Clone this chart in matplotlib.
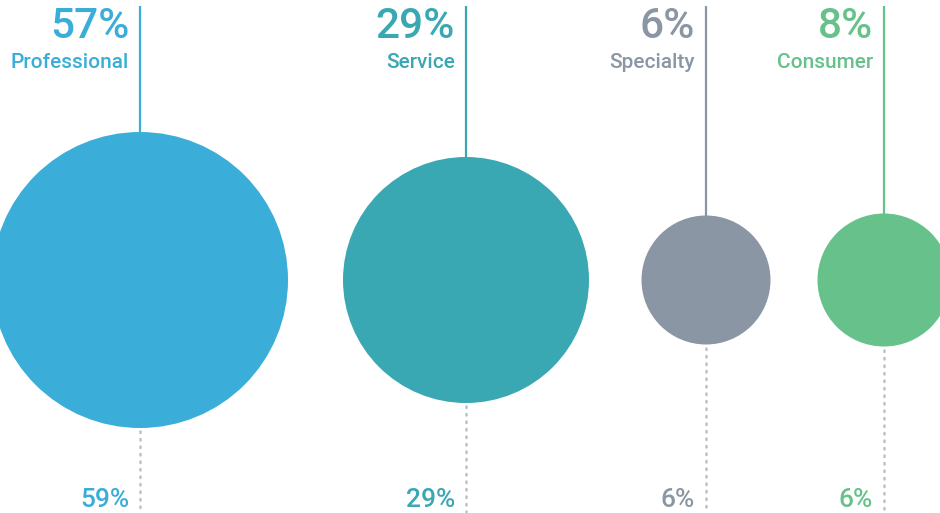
import matplotlib
matplotlib.use("Agg")
import matplotlib.pyplot as plt
from matplotlib.patches import Circle

categories = ["Professional", "Service", "Specialty", "Consumer"]
top_values = [57, 29, 6, 8]
bottom_values = [59, 29, 6, 6]
circle_sizes = [148, 123, 64.5, 66.5]
colors = ["#3AAED9", "#39A8B3", "#8A96A3", "#67C18A"]

x_pos = [140, 466, 706, 884]
cy = 280

fig = plt.figure(figsize=(9.4, 5.13), dpi=100)
ax = fig.add_axes([0, 0, 1, 1])
ax.set_xlim(0, 940)
ax.set_ylim(513, 0)
ax.set_aspect("equal")
ax.axis("off")

font = "Roboto"
for cat, tv, bv, r, c, x in zip(categories, top_values, bottom_values, circle_sizes, colors, x_pos):
    ax.add_patch(Circle((x, cy), r, color=c, zorder=2, linewidth=0))
    ax.plot([x, x], [6, cy - r], color=c, lw=1.6, zorder=1, solid_capstyle="butt")
    ax.plot([x, x], [cy + r + 3, 512], color="#B8C2C6", lw=1.8, ls=(0, (0.6, 2.4)),
            zorder=1, dash_capstyle="round")
    ax.text(x - 11, 38, f"{tv}%", color=c, fontsize=30.5, fontfamily=font,
            fontweight="medium", ha="right", va="baseline")
    ax.text(x - 11, 67.5, cat, color=c, fontsize=15, fontfamily=font,
            fontweight="medium", ha="right", va="baseline")
    ax.text(x - 11, 507, f"{bv}%", color=c, fontsize=19, fontfamily=font,
            fontweight="medium", ha="right", va="baseline")

fig.savefig("out.png", dpi=100)
